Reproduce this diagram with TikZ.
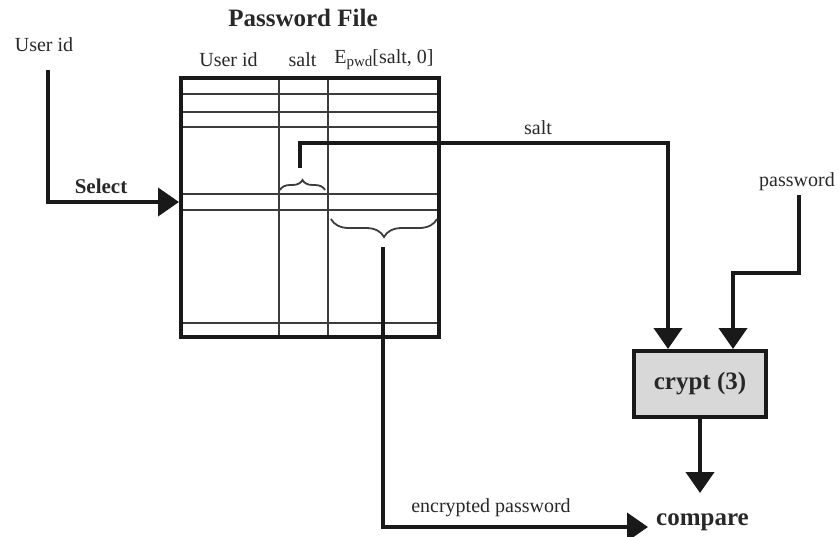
\documentclass[tikz,border=0pt]{standalone}
\usepackage{fontspec}
\setmainfont{Liberation Serif}
\usepackage{tikz}
\usetikzlibrary{arrows.meta, positioning, calc, decorations.pathreplacing}
\definecolor{inkdark}{RGB}{25,25,25}
\definecolor{inktext}{RGB}{40,40,40}
\definecolor{rulegray}{RGB}{60,60,60}
\definecolor{boxgray}{RGB}{216,216,216}
\tikzset{
  lbl/.style={font=\fontsize{20}{22}\selectfont, text=inktext, inner sep=0pt},
  boldlbl/.style={font=\fontsize{25}{27}\selectfont\bfseries, text=inktext, inner sep=0pt},
  filebox/.style={rectangle, draw=inkdark, line width=4pt,
    minimum width=258pt, minimum height=259pt},
  cryptbox/.style={rectangle, draw=inkdark, fill=boxgray, line width=4pt,
    minimum width=132pt, minimum height=66pt, inner sep=0pt,
    font=\fontsize{25}{27}\selectfont\bfseries, text=inktext},
  arrow/.style={-{Triangle[length=21pt,width=28pt]}, line width=4pt, color=inkdark},
  rowline/.style={line width=2pt, color=rulegray},
  bracket/.style={decorate, decoration={brace, amplitude=#1}, line width=1.8pt, color=rulegray}
}

\begin{document}
\begin{tikzpicture}[x=1pt, y=-1pt]
\useasboundingbox (0,0) rectangle (840,536);
\foreach \y in {94, 112, 127, 194, 210, 323} {
  \draw[rowline] (182,\y) -- (438,\y);
}
\foreach \x in {279, 328} {
  \draw[rowline] (\x,79) -- (\x,336);
}
\node[filebox] (pwfile) at (310,207.5) {};
\node[boldlbl] (title) at (303,18) {Password File};
\node[lbl] (hdruid) at (228.5,60) {User id};
\node[lbl] (hdrsalt) at (302.5,60) {salt};
\node[lbl] (hdrepwd) at (384,60) {E\raisebox{-3pt}{\fontsize{15}{15}\selectfont pwd}[salt, 0]};
\node[lbl] (uid) at (44,45) {User id};
\node[lbl] (pwd) at (797,182) {password};
\node[cryptbox] (crypt) at (700,384) {crypt (3)};
\node[boldlbl, anchor=west] (compare) at (656,522) {compare};
\node[lbl, font=\fontsize{21}{23}\selectfont\bfseries] (select) at (101,186) {Select};
\node[lbl] (saltlbl) at (538,128) {salt};
\node[lbl] (enclbl) at (491,508) {encrypted password};
\coordinate (uidout) at (48,70);
\coordinate (selin) at (179,202);
\coordinate (saltcell) at (300,168);
\coordinate (encout) at (383,247);
\coordinate (pwdout) at (799,195);
\coordinate (saltin) at ([xshift=-32pt]crypt.north);
\coordinate (pwdin) at ([xshift=33pt]crypt.north);
\coordinate (cmpin) at (648,527);
\draw[bracket=10pt] (280,190) -- (325,190);
\draw[bracket=18pt] (437,219) -- (331,219);
\draw[arrow] (uidout) |- (selin);
\draw[arrow] (saltcell) |- (saltin |- 0,143) -- (saltin);
\draw[arrow] (pwdout) |- (pwdin |- 0,273) -- (pwdin);
\draw[arrow] (crypt.south) -- (crypt.south |- 0,493);
\draw[arrow] (encout) |- (cmpin);
\end{tikzpicture}
\end{document}
